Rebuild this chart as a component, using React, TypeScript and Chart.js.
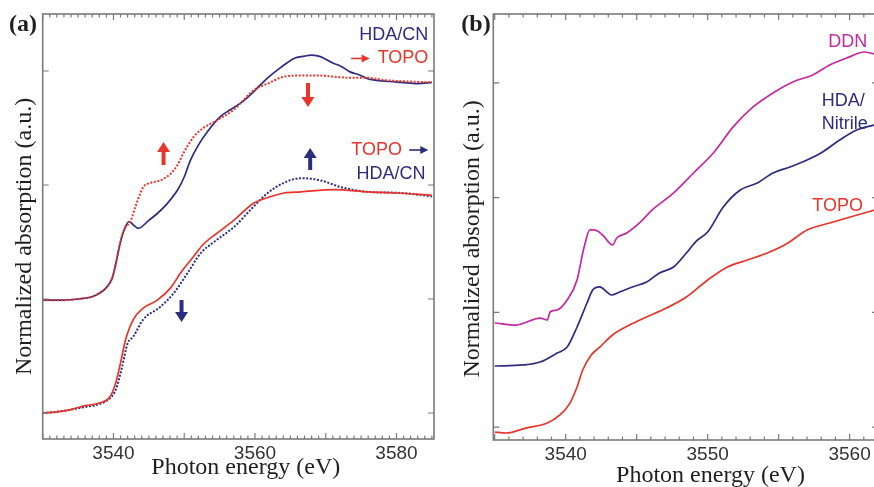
import React, { useEffect, useRef } from "react";
import { Chart, registerables } from "chart.js";

Chart.register(...registerables);

// ---------------- Panel (a) data ----------------
// upper pair: HDA/CN (solid navy) -> TOPO (dotted red)
const aUpperHdaE = [3530.0, 3533.0, 3535.0, 3537.0, 3538.0, 3539.0, 3539.8, 3540.3, 3540.8, 3541.2, 3541.6, 3542.2, 3542.8, 3543.5, 3545.0, 3546.2, 3547.5, 3549.1, 3550.0, 3550.9, 3552.0, 3553.3, 3555.1, 3556.5, 3558.0, 3559.5, 3560.8, 3562.0, 3563.2, 3564.5, 3565.5, 3567.0, 3567.9, 3569.0, 3569.8, 3571.0, 3572.2, 3573.5, 3574.6, 3576.0, 3576.9, 3578.5, 3580.7, 3583.0, 3585.0];
const aUpperHdaY = [0.99, 0.99, 1.0, 1.02, 1.05, 1.1, 1.18, 1.3, 1.45, 1.55, 1.62, 1.68, 1.65, 1.62, 1.69, 1.75, 1.83, 1.96, 2.07, 2.22, 2.35, 2.47, 2.6, 2.66, 2.72, 2.8, 2.88, 2.95, 3.01, 3.07, 3.11, 3.13, 3.14, 3.13, 3.11, 3.07, 3.04, 2.99, 2.97, 2.93, 2.92, 2.91, 2.9, 2.89, 2.9];

const aUpperTopoE = [3530.0, 3533.0, 3535.0, 3537.0, 3538.0, 3539.0, 3539.8, 3540.3, 3540.8, 3541.2, 3541.6, 3542.4, 3543.1, 3544.2, 3545.3, 3546.6, 3548.1, 3549.0, 3549.9, 3551.3, 3552.7, 3554.7, 3557.0, 3559.8, 3561.8, 3564.1, 3566.5, 3568.9, 3571.2, 3573.6, 3576.0, 3578.3, 3581.0, 3585.0];
const aUpperTopoY = [0.99, 0.99, 1.0, 1.02, 1.05, 1.1, 1.18, 1.3, 1.45, 1.55, 1.62, 1.68, 1.81, 1.98, 2.02, 2.04, 2.1, 2.17, 2.28, 2.42, 2.5, 2.57, 2.66, 2.83, 2.89, 2.95, 2.96, 2.96, 2.95, 2.94, 2.94, 2.92, 2.91, 2.9];

// lower pair: TOPO (solid red) -> HDA/CN (dotted navy)
const aLowerTopoE = [3530.0, 3532.0, 3534.0, 3535.7, 3538.1, 3539.5, 3540.3, 3541.0, 3541.7, 3542.8, 3544.2, 3546.2, 3548.1, 3549.5, 3551.3, 3552.7, 3554.7, 3557.0, 3559.8, 3561.8, 3564.1, 3566.5, 3571.2, 3576.0, 3580.0, 3585.0];
const aLowerTopoY = [0.0, 0.01, 0.03, 0.06, 0.09, 0.14, 0.26, 0.44, 0.64, 0.82, 0.92, 0.99, 1.1, 1.23, 1.37, 1.48, 1.58, 1.69, 1.84, 1.89, 1.93, 1.94, 1.96, 1.94, 1.93, 1.91];

const aLowerHdaE = [3530.0, 3532.0, 3534.0, 3535.7, 3538.1, 3539.5, 3540.3, 3541.2, 3542.0, 3542.8, 3544.2, 3546.6, 3548.5, 3550.5, 3552.3, 3554.2, 3557.0, 3559.8, 3561.8, 3564.1, 3566.5, 3569.3, 3572.2, 3576.0, 3580.7, 3585.0];
const aLowerHdaY = [0.0, 0.01, 0.03, 0.05, 0.08, 0.13, 0.2, 0.4, 0.61, 0.67, 0.82, 0.93, 1.05, 1.23, 1.4, 1.5, 1.63, 1.81, 1.93, 2.02, 2.06, 2.04, 1.98, 1.94, 1.93, 1.9];

const aXLabels = [3540, 3560, 3580];
const aYTicks = [0, 1, 2, 3];

// ---------------- Panel (b) data ----------------
const bDdnE = [3535.0, 3536.5, 3538.2, 3538.7, 3538.9, 3539.4, 3540.1, 3540.8, 3541.2, 3541.3, 3541.7, 3542.0, 3542.6, 3543.3, 3543.6, 3544.3, 3545.2, 3546.1, 3547.6, 3549.0, 3550.4, 3551.8, 3553.2, 3554.6, 3556.0, 3557.4, 3558.6, 3560.0, 3561.0, 3562.0];
const bDdnY = [0.907, 0.889, 0.95, 0.933, 1.003, 1.02, 1.107, 1.282, 1.517, 1.569, 1.718, 1.718, 1.674, 1.587, 1.648, 1.691, 1.779, 1.892, 2.04, 2.214, 2.389, 2.616, 2.79, 2.912, 3.008, 3.069, 3.156, 3.226, 3.269, 3.243];

const bHdaE = [3535.0, 3537.0, 3538.2, 3539.4, 3540.1, 3540.8, 3541.5, 3541.9, 3542.4, 3542.9, 3543.2, 3543.8, 3544.7, 3545.7, 3546.6, 3547.6, 3548.5, 3549.2, 3550.0, 3551.1, 3552.3, 3553.5, 3554.6, 3555.8, 3557.0, 3558.1, 3559.3, 3560.5, 3562.0];
const bHdaY = [0.532, 0.541, 0.567, 0.645, 0.697, 0.872, 1.081, 1.194, 1.221, 1.177, 1.151, 1.177, 1.221, 1.264, 1.343, 1.395, 1.517, 1.62, 1.7, 1.918, 2.066, 2.127, 2.214, 2.267, 2.328, 2.398, 2.502, 2.589, 2.64];

const bTopoE = [3535.0, 3535.8, 3537.2, 3538.7, 3539.6, 3540.3, 3540.8, 3541.2, 3541.8, 3542.4, 3543.3, 3544.5, 3545.7, 3547.1, 3548.5, 3550.0, 3551.4, 3552.8, 3554.2, 3555.6, 3557.0, 3558.6, 3559.8, 3562.0];
const bTopoY = [-0.044, -0.052, -0.009, 0.035, 0.105, 0.209, 0.349, 0.497, 0.628, 0.697, 0.802, 0.889, 0.959, 1.037, 1.133, 1.282, 1.395, 1.456, 1.517, 1.6, 1.718, 1.778, 1.822, 1.9];

const bXLabels = [3540, 3550, 3560];
const bYTicks = [0, 1, 2, 3];

// ---------------- styles ----------------
const NAVY = "#2d2c7f";
const RED = "#e8342b";
const MAGENTA = "#c4299d";
const FRAME = "#7a7a7a";
const TEXT = "#1f1f1f";
const SANS = '"Liberation Sans", Arial, sans-serif';
const SERIF = '"Liberation Serif", "Times New Roman", serif';

const pts = (xs: number[], ys: number[]) => xs.map((x, i) => ({ x, y: ys[i] }));

type Txt = { text: string; color: string; x: number; y: number; align: CanvasTextAlign };
type VArrow = { x: number; tail: number; head: number; color: string };
type HArrow = { from: number; to: number; y: number; color: string };

interface Decor {
  majorEvery: number;
  yTicks: number[];
  texts: Txt[];
  vArrows: VArrow[];
  hArrows: HArrow[];
  xTitleAt: number;
  xTitleDy: number;
  yTitleDx: number;
  yTitleDy: number;
  label: string;
  labelX: number;
}

const aDecor: Decor = {
  majorEvery: 10,
  yTicks: aYTicks,
  texts: [
    { text: "HDA/CN", color: NAVY, x: 3584.5, y: 3.316, align: "right" },
    { text: "TOPO", color: RED, x: 3584.5, y: 3.11, align: "right" },
    { text: "TOPO", color: RED, x: 3573.6, y: 2.307, align: "left" },
    { text: "HDA/CN", color: NAVY, x: 3584.1, y: 2.1, align: "right" },
  ],
  vArrows: [
    { x: 3547.08, tail: 2.175, head: 2.377, color: RED },
    { x: 3567.49, tail: 2.895, head: 2.684, color: RED },
    { x: 3567.8, tail: 2.132, head: 2.325, color: NAVY },
    { x: 3549.62, tail: 0.991, head: 0.798, color: NAVY },
  ],
  hArrows: [
    { from: 3573.6, to: 3576.2, y: 3.11, color: RED },
    { from: 3581.8, to: 3584.5, y: 2.307, color: NAVY },
  ],
  xTitleAt: 3558.7,
  xTitleDy: 35,
  yTitleDx: -18,
  yTitleDy: 10,
  label: "(a)",
  labelX: 23,
};

const bDecor: Decor = {
  majorEvery: 5,
  yTicks: bYTicks,
  texts: [
    { text: "DDN", color: MAGENTA, x: 3561.24, y: 3.357, align: "right" },
    { text: "HDA/", color: NAVY, x: 3559.55, y: 2.84, align: "center" },
    { text: "Nitrile", color: NAVY, x: 3559.65, y: 2.645, align: "center" },
    { text: "TOPO", color: RED, x: 3559.16, y: 1.93, align: "center" },
  ],
  vArrows: [],
  hArrows: [],
  xTitleAt: 3550.2,
  xTitleDy: 42,
  yTitleDx: -21,
  yTitleDy: 12,
  label: "(b)",
  labelX: 36,
};

function makePlugin(d: Decor) {
  return {
    id: "decor" + d.label,
    afterDraw(chart: any) {
      const ctx: CanvasRenderingContext2D = chart.ctx;
      const { left, right, top, bottom } = chart.chartArea;
      const xs = chart.scales.x;
      const ys = chart.scales.y;
      ctx.save();
      // frame
      ctx.strokeStyle = FRAME;
      ctx.lineWidth = 1.6;
      ctx.strokeRect(left, top, right - left, bottom - top);
      // x ticks (inward, bottom and top)
      ctx.lineWidth = 1.2;
      for (let v = Math.ceil(xs.min); v <= Math.floor(xs.max); v++) {
        const p = xs.getPixelForValue(v);
        const len = v % d.majorEvery === 0 ? 6 : 3.5;
        ctx.beginPath();
        ctx.moveTo(p, bottom);
        ctx.lineTo(p, bottom - len);
        ctx.moveTo(p, top);
        ctx.lineTo(p, top + len);
        ctx.stroke();
      }
      // y ticks (inward, left and right)
      for (const v of d.yTicks) {
        const p = ys.getPixelForValue(v);
        ctx.beginPath();
        ctx.moveTo(left, p);
        ctx.lineTo(left + 6, p);
        ctx.moveTo(right, p);
        ctx.lineTo(right - 6, p);
        ctx.stroke();
      }
      // annotation texts
      ctx.font = `18px ${SANS}`;
      ctx.textBaseline = "middle";
      for (const t of d.texts) {
        ctx.fillStyle = t.color;
        ctx.textAlign = t.align;
        ctx.fillText(t.text, xs.getPixelForValue(t.x), ys.getPixelForValue(t.y));
      }
      // thick vertical arrows
      for (const a of d.vArrows) {
        const x = xs.getPixelForValue(a.x);
        const yt = ys.getPixelForValue(a.tail);
        const yh = ys.getPixelForValue(a.head);
        const dir = yh > yt ? 1 : -1;
        const hl = 10;
        ctx.strokeStyle = a.color;
        ctx.fillStyle = a.color;
        ctx.lineWidth = 4;
        ctx.lineCap = "butt";
        ctx.beginPath();
        ctx.moveTo(x, yt);
        ctx.lineTo(x, yh - dir * (hl - 1));
        ctx.stroke();
        ctx.beginPath();
        ctx.moveTo(x, yh);
        ctx.lineTo(x - 6.5, yh - dir * hl);
        ctx.lineTo(x + 6.5, yh - dir * hl);
        ctx.closePath();
        ctx.fill();
      }
      // thin horizontal arrows
      for (const a of d.hArrows) {
        const x0 = xs.getPixelForValue(a.from);
        const x1 = xs.getPixelForValue(a.to);
        const y = ys.getPixelForValue(a.y);
        ctx.strokeStyle = a.color;
        ctx.fillStyle = a.color;
        ctx.lineWidth = 1.6;
        ctx.beginPath();
        ctx.moveTo(x0, y);
        ctx.lineTo(x1 - 6, y);
        ctx.stroke();
        ctx.beginPath();
        ctx.moveTo(x1, y);
        ctx.lineTo(x1 - 8, y - 4);
        ctx.lineTo(x1 - 8, y + 4);
        ctx.closePath();
        ctx.fill();
      }
      // axis titles
      ctx.fillStyle = TEXT;
      ctx.font = `24px ${SERIF}`;
      ctx.textAlign = "center";
      ctx.textBaseline = "alphabetic";
      ctx.fillText("Photon energy (eV)", xs.getPixelForValue(d.xTitleAt), bottom + d.xTitleDy);
      ctx.save();
      ctx.translate(left + d.yTitleDx, (top + bottom) / 2 + d.yTitleDy);
      ctx.rotate(-Math.PI / 2);
      ctx.textBaseline = "middle";
      ctx.fillText("Normalized absorption (a.u.)", 0, 0);
      ctx.restore();
      // panel label
      ctx.font = `bold 24px ${SERIF}`;
      ctx.textBaseline = "middle";
      ctx.textAlign = "center";
      ctx.fillText(d.label, d.labelX, 25);
      ctx.restore();
    },
  };
}

interface PanelProps {
  datasets: any[];
  xMin: number;
  xMax: number;
  yMin: number;
  yMax: number;
  xLabels: number[];
  yTicks: number[];
  decor: Decor;
  width: number;
  height: number;
  yWidth: number;
  xHeight: number;
  padRight: number;
}

function Panel(p: PanelProps) {
  const ref = useRef<HTMLCanvasElement>(null);
  useEffect(() => {
    const chart = new Chart(ref.current as HTMLCanvasElement, {
      type: "line",
      data: { datasets: p.datasets },
      options: {
        animation: false,
        responsive: false,
        devicePixelRatio: 1,
        events: [],
        layout: { padding: { left: 0, top: 14, right: p.padRight, bottom: 0 } },
        elements: { point: { radius: 0 }, line: { cubicInterpolationMode: "monotone" } },
        plugins: { legend: { display: false }, tooltip: { enabled: false } },
        scales: {
          x: {
            type: "linear",
            min: p.xMin,
            max: p.xMax,
            grid: { display: false, drawTicks: false },
            border: { display: false },
            ticks: {
              font: { family: SANS, size: 19 },
              color: "#333",
              padding: 3,
              maxRotation: 0,
              autoSkip: false,
              callback: (v: any) => String(v),
            },
            afterBuildTicks: (s: any) => {
              s.ticks = p.xLabels.map((v) => ({ value: v }));
            },
            afterFit: (s: any) => {
              s.height = p.xHeight;
            },
          },
          y: {
            type: "linear",
            min: p.yMin,
            max: p.yMax,
            grid: { display: false, drawTicks: false },
            border: { display: false },
            ticks: { display: false },
            afterBuildTicks: (s: any) => {
              s.ticks = p.yTicks.map((v) => ({ value: v }));
            },
            afterFit: (s: any) => {
              s.width = p.yWidth;
            },
          },
        },
      } as any,
      plugins: [makePlugin(p.decor)],
    });
    return () => chart.destroy();
  }, []);
  return (
    <canvas
      ref={ref}
      width={p.width}
      height={p.height}
      style={{ display: "block", width: p.width, height: p.height }}
    />
  );
}

const line = (xs: number[], ys: number[], color: string, dashed: boolean) => ({
  data: pts(xs, ys),
  borderColor: color,
  borderWidth: dashed ? 2 : 1.7,
  borderDash: dashed ? [2, 1.6] : [],
  pointRadius: 0,
  fill: false,
});

export default function App() {
  const aSets = [
    line(aLowerTopoE, aLowerTopoY, RED, false),
    line(aLowerHdaE, aLowerHdaY, NAVY, true),
    line(aUpperTopoE, aUpperTopoY, RED, true),
    line(aUpperHdaE, aUpperHdaY, NAVY, false),
  ];
  const bSets = [
    line(bTopoE, bTopoY, RED, false),
    line(bHdaE, bHdaY, NAVY, false),
    line(bDdnE, bDdnY, MAGENTA, false),
  ];
  return (
    <div style={{ position: "absolute", left: 0, top: 0, width: 874, height: 487, overflow: "hidden", background: "#fff" }}>
      <div style={{ position: "absolute", left: 0, top: 0 }}>
        <Panel
          datasets={aSets}
          xMin={3530}
          xMax={3585.3}
          yMin={-0.228}
          yMax={3.5}
          xLabels={aXLabels}
          yTicks={aYTicks}
          decor={aDecor}
          width={440}
          height={487}
          yWidth={42.7}
          xHeight={48}
          padRight={6}
        />
      </div>
      <div style={{ position: "absolute", left: 440, top: 0, width: 434, height: 487, overflow: "hidden" }}>
        <Panel
          datasets={bSets}
          xMin={3534.9}
          xMax={3562}
          yMin={-0.113}
          yMax={3.6}
          xLabels={bXLabels}
          yTicks={bYTicks}
          decor={bDecor}
          width={440}
          height={487}
          yWidth={53.3}
          xHeight={47}
          padRight={2}
        />
      </div>
    </div>
  );
}
